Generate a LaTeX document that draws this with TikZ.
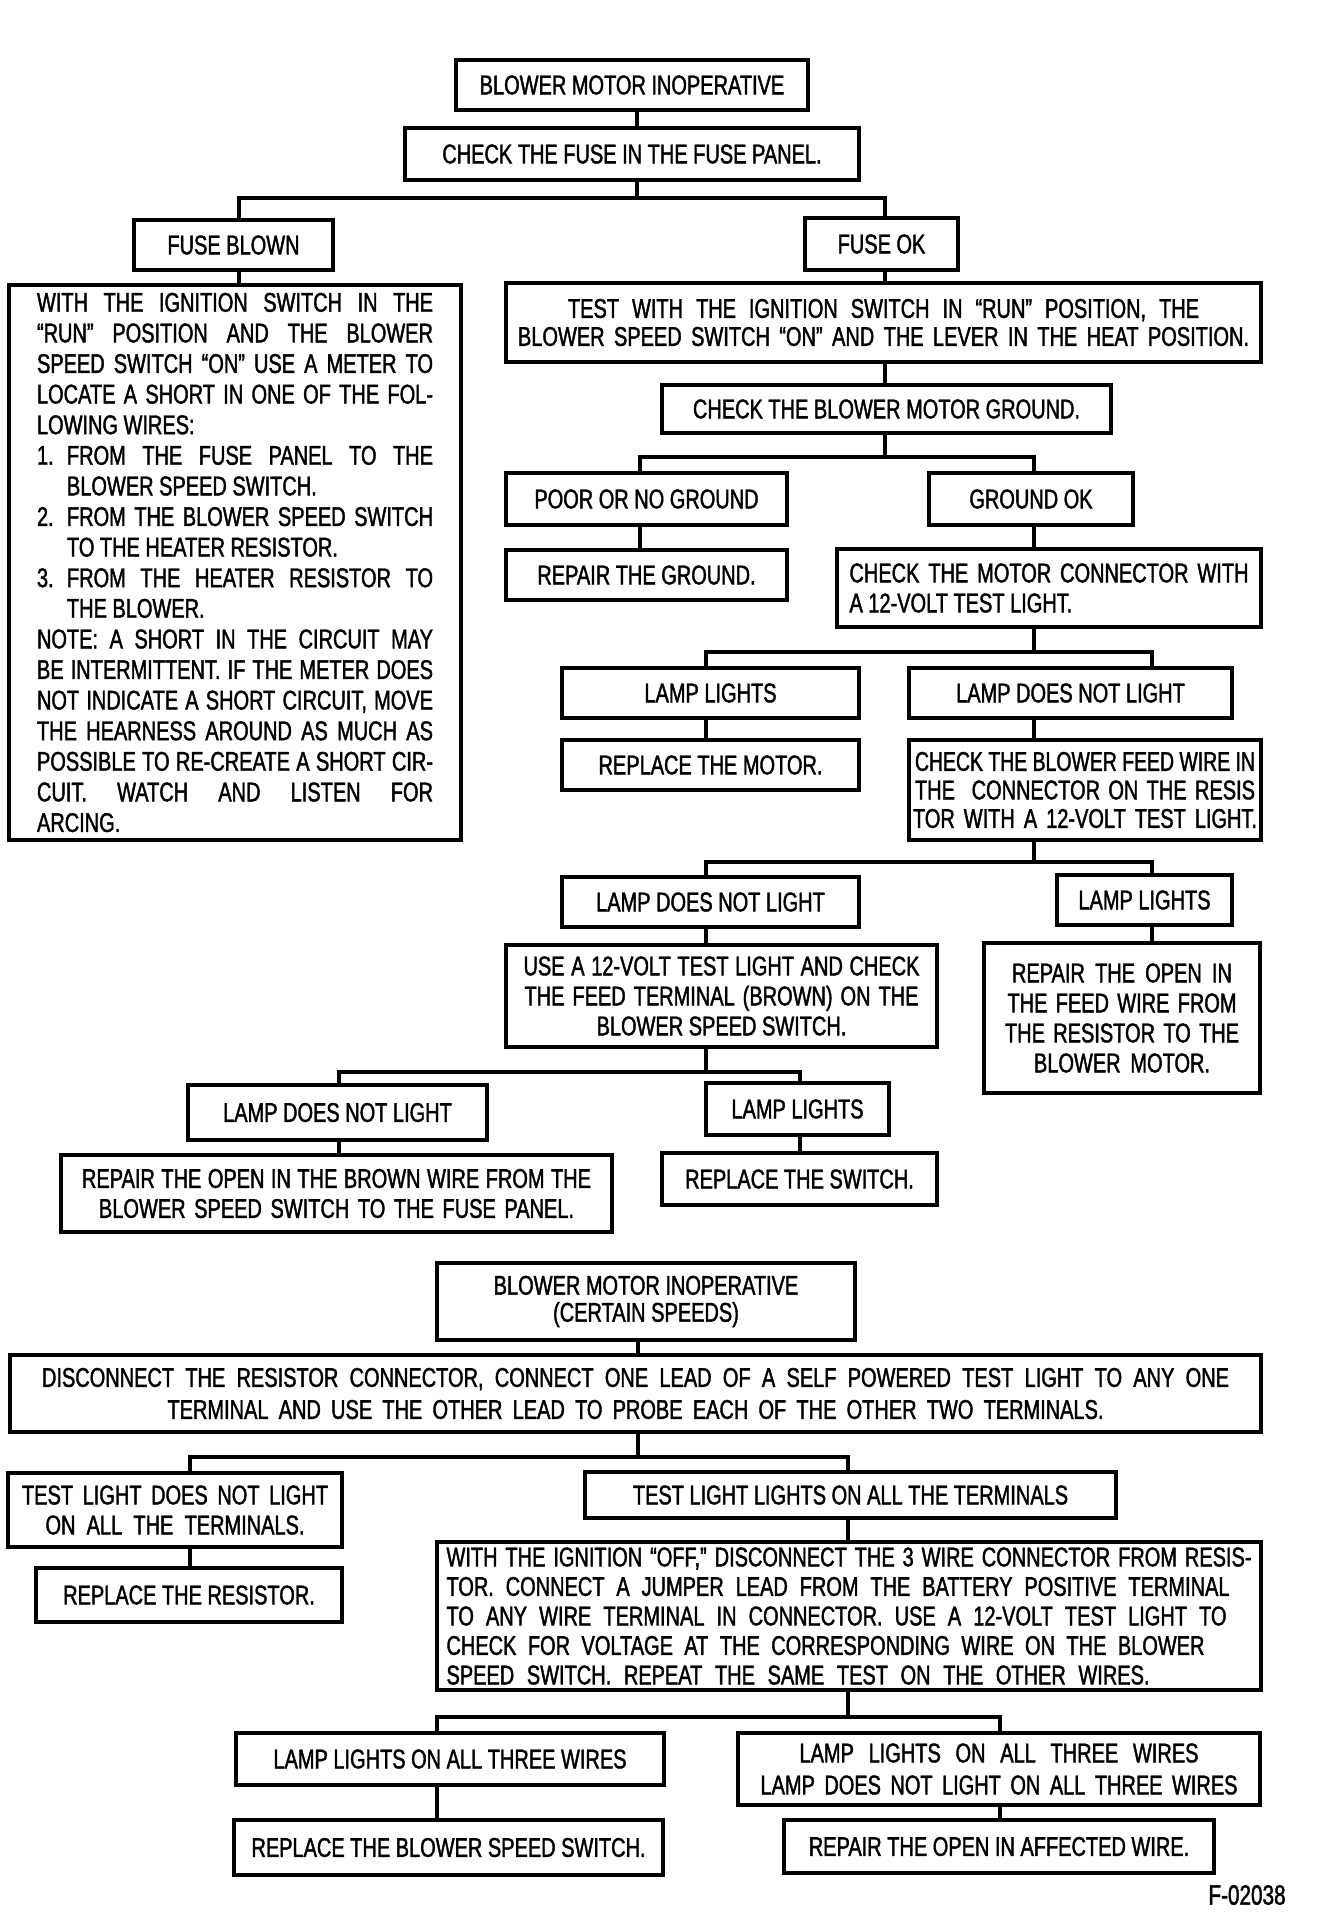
\documentclass[tikz,border=0pt]{standalone}
\usepackage{fontspec}
\setmainfont{Liberation Sans}[FakeStretch=0.74,FakeBold=1.5]
\usepackage{graphicx}
\newsavebox\flbox
\newcommand\fitline[2]{\sbox\flbox{#2}\ifdim\wd\flbox>#1\relax\resizebox{#1}{\ht\flbox}{\usebox\flbox}\else\makebox[#1][s]{#2}\fi}
% box node from its corners (x1,y1)-(x2,y2) given in pixels of the reference
\newcommand\bxn[6]{\node[bx,minimum width={(#5-#3)*0.5pt},minimum height={(#6-#4)*0.5pt},#2] (#1) at ({(#3+#5)/2},{(#4+#6)/2})}
\tikzset{
  bx/.style={draw, line width=1.7pt, inner sep=0pt, align=center, anchor=center,
    font=\fontsize{13.5pt}{15pt}\selectfont},
  cn/.style={line width=1.7pt, line cap=rect, line join=miter},
}
\begin{document}
\begin{tikzpicture}[x=0.5pt,y=-0.5pt]
\fill[white] (0,0) rectangle (1344,1924);
\useasboundingbox (0,0) rectangle (1344,1924);

% ---------------- upper chart ----------------
\bxn{b1}{}{456}{60}{808}{110}{BLOWER MOTOR INOPERATIVE};
\bxn{b2}{}{405}{128}{859}{180}{CHECK THE FUSE IN THE FUSE PANEL.};
\bxn{fb}{}{134}{220}{333}{270}{FUSE BLOWN};
\bxn{fok}{}{805}{218}{958}{270}{FUSE OK};
\bxn{l1}{align=left, font=\fontsize{13.5pt}{15.3pt}\selectfont}{9}{285}{461}{840}{%
\fitline{198pt}{WITH THE IGNITION SWITCH IN THE}\\
\fitline{198pt}{``RUN'' POSITION AND THE BLOWER}\\
\fitline{198pt}{SPEED SWITCH ``ON'' USE A METER TO}\\
\fitline{198pt}{LOCATE A SHORT IN ONE OF THE FOL-}\\
LOWING WIRES:\\
\makebox[15pt][l]{1.}\fitline{183pt}{FROM THE FUSE PANEL TO THE}\\
\hspace*{15pt}BLOWER SPEED SWITCH.\\
\makebox[15pt][l]{2.}\fitline{183pt}{FROM THE BLOWER SPEED SWITCH}\\
\hspace*{15pt}TO THE HEATER RESISTOR.\\
\makebox[15pt][l]{3.}\fitline{183pt}{FROM THE HEATER RESISTOR TO}\\
\hspace*{15pt}THE BLOWER.\\
\fitline{198pt}{NOTE: A SHORT IN THE CIRCUIT MAY}\\
\fitline{198pt}{BE INTERMITTENT. IF THE METER DOES}\\
\fitline{198pt}{NOT INDICATE A SHORT CIRCUIT, MOVE}\\
\fitline{198pt}{THE HEARNESS AROUND AS MUCH AS}\\
\fitline{198pt}{POSSIBLE TO RE-CREATE A SHORT CIR-}\\
\fitline{198pt}{CUIT. WATCH AND LISTEN FOR}\\
ARCING.};
\bxn{r1}{font=\fontsize{13.5pt}{14pt}\selectfont}{506}{283}{1261}{362}{%
\fitline{315.5pt}{TEST WITH THE IGNITION SWITCH IN ``RUN'' POSITION, THE}\\
\fitline{365.5pt}{BLOWER SPEED SWITCH ``ON'' AND THE LEVER IN THE HEAT POSITION.}};
\bxn{r2}{}{662}{385}{1111}{433}{CHECK THE BLOWER MOTOR GROUND.};
\bxn{poor}{}{506}{473}{787}{525}{POOR OR NO GROUND};
\bxn{gok}{}{929}{473}{1133}{525}{GROUND OK};
\bxn{rg}{}{506}{550}{787}{600}{REPAIR THE GROUND.};
\bxn{r3}{align=left}{837}{549}{1261}{627}{%
\fitline{199.5pt}{CHECK THE MOTOR CONNECTOR WITH}\\
A 12-VOLT TEST LIGHT.};
\bxn{ll1}{}{562}{668}{859}{718}{LAMP LIGHTS};
\bxn{ln1}{}{909}{668}{1232}{718}{LAMP DOES NOT LIGHT};
\bxn{rm}{}{562}{740}{859}{790}{REPLACE THE MOTOR.};
\bxn{r5}{font=\fontsize{13.5pt}{14.25pt}\selectfont}{909}{740}{1261}{840}{%
\fitline{170pt}{CHECK THE BLOWER FEED WIRE IN}\\
\fitline{170pt}{THE\ \ CONNECTOR ON THE RESIS}\\
\fitline{172pt}{TOR WITH A 12-VOLT TEST LIGHT.}};
\bxn{ln2}{}{562}{877}{859}{927}{LAMP DOES NOT LIGHT};
\bxn{ll2}{}{1057}{875}{1232}{925}{LAMP LIGHTS};
\bxn{r7}{}{506}{945}{937}{1047}{%
\fitline{198pt}{USE A 12-VOLT TEST LIGHT AND CHECK}\\
\fitline{197pt}{THE FEED TERMINAL (BROWN) ON THE}\\
BLOWER SPEED SWITCH.};
\bxn{r8}{}{984}{943}{1260}{1093}{%
\fitline{110pt}{REPAIR THE OPEN IN}\\
\fitline{114.5pt}{THE FEED WIRE FROM}\\
\fitline{117pt}{THE RESISTOR TO THE}\\
\fitline{88pt}{BLOWER MOTOR.}};
\bxn{ln3}{}{188}{1085}{487}{1140}{LAMP DOES NOT LIGHT};
\bxn{ll3}{}{706}{1083}{889}{1135}{LAMP LIGHTS};
\bxn{r10a}{}{61}{1155}{612}{1232}{%
\fitline{254.5pt}{REPAIR THE OPEN IN THE BROWN WIRE FROM THE}\\
\fitline{237.5pt}{BLOWER SPEED SWITCH TO THE FUSE PANEL.}};
\bxn{r10b}{}{662}{1153}{937}{1205}{REPLACE THE SWITCH.};

% ---------------- lower chart ----------------
\bxn{s1}{font=\fontsize{13.5pt}{13.5pt}\selectfont}{437}{1263}{855}{1340}{%
BLOWER MOTOR INOPERATIVE\\(CERTAIN SPEEDS)};
\bxn{s2}{font=\fontsize{13.5pt}{16pt}\selectfont}{10}{1355}{1261}{1432}{%
\fitline{593.5pt}{DISCONNECT THE RESISTOR CONNECTOR, CONNECT ONE LEAD OF A SELF POWERED TEST LIGHT TO ANY ONE}\\
\fitline{468pt}{TERMINAL AND USE THE OTHER LEAD TO PROBE EACH OF THE OTHER TWO TERMINALS.}};
\bxn{s3a}{}{8}{1473}{342}{1547}{%
\fitline{153pt}{TEST LIGHT DOES NOT LIGHT}\\
\fitline{129.5pt}{ON ALL THE TERMINALS.}};
\bxn{s3b}{}{585}{1472}{1116}{1518}{TEST LIGHT LIGHTS ON ALL THE TERMINALS};
\bxn{s4a}{}{36}{1568}{342}{1622}{REPLACE THE RESISTOR.};
\bxn{s4b}{align=left, font=\fontsize{13.5pt}{14.75pt}\selectfont}{437}{1542}{1261}{1690}{%
\fitline{402.5pt}{WITH THE IGNITION ``OFF,'' DISCONNECT THE 3 WIRE CONNECTOR FROM RESIS-}\\
\fitline{391.5pt}{TOR. CONNECT A JUMPER LEAD FROM THE BATTERY POSITIVE TERMINAL}\\
\fitline{390pt}{TO ANY WIRE TERMINAL IN CONNECTOR. USE A 12-VOLT TEST LIGHT TO}\\
\fitline{379pt}{CHECK FOR VOLTAGE AT THE CORRESPONDING WIRE ON THE BLOWER}\\
\fitline{351.5pt}{SPEED SWITCH. REPEAT THE SAME TEST ON THE OTHER WIRES.}};
\bxn{s5a}{}{236}{1733}{664}{1785}{LAMP LIGHTS ON ALL THREE WIRES};
\bxn{s5b}{font=\fontsize{13.5pt}{16pt}\selectfont}{738}{1733}{1260}{1805}{%
\fitline{199.5pt}{LAMP LIGHTS ON ALL THREE WIRES}\\
\fitline{238.5pt}{LAMP DOES NOT LIGHT ON ALL THREE WIRES}};
\bxn{s6a}{}{234}{1820}{663}{1875}{REPLACE THE BLOWER SPEED SWITCH.};
\bxn{s6b}{}{784}{1820}{1214}{1873}{REPAIR THE OPEN IN AFFECTED WIRE.};
\node[anchor=east, inner sep=0pt, font=\fontsize{14pt}{14pt}\selectfont] (fig) at (1286,1895) {F-02038};

% ---------------- connectors ----------------
\coordinate (j1) at (637,198); \coordinate (j1l) at (239,198); \coordinate (j1r) at (885,198);
\draw[cn] (b1.south -| j1) -- (b2.north -| j1);
\draw[cn] (b2.south -| j1) -- (j1);
\draw[cn] (fb.north -| j1l) -- (j1l) -- (j1r) -- (fok.north -| j1r);
\draw[cn] (fb.south -| j1l) -- (l1.north -| j1l);
\draw[cn] (fok.south -| j1r) -- (r1.north -| j1r);
\draw[cn] (r1.south -| j1r) -- (r2.north -| j1r);

\coordinate (j2) at (885,457); \coordinate (j2l) at (640,457); \coordinate (j2r) at (1034,457);
\draw[cn] (r2.south -| j2) -- (j2);
\draw[cn] (poor.north -| j2l) -- (j2l) -- (j2r) -- (gok.north -| j2r);
\draw[cn] (poor.south -| j2l) -- (rg.north -| j2l);
\draw[cn] (gok.south -| j2r) -- (r3.north -| j2r);

\coordinate (j3) at (1034,652); \coordinate (j3l) at (706,652); \coordinate (j3r) at (1152,652);
\draw[cn] (r3.south -| j3) -- (j3);
\draw[cn] (ll1.north -| j3l) -- (j3l) -- (j3r) -- (ln1.north -| j3r);
\draw[cn] (ll1.south -| j3l) -- (rm.north -| j3l);
\draw[cn] (ln1.south -| j3) -- (r5.north -| j3);

\coordinate (j4) at (1034,862); \coordinate (j4l) at (706,862); \coordinate (j4r) at (1152,862);
\draw[cn] (r5.south -| j4) -- (j4);
\draw[cn] (ln2.north -| j4l) -- (j4l) -- (j4r) -- (ll2.north -| j4r);
\draw[cn] (ln2.south -| j4l) -- (r7.north -| j4l);
\draw[cn] (ll2.south -| j4r) -- (r8.north -| j4r);

\coordinate (j5) at (706,1072); \coordinate (j5l) at (339,1072); \coordinate (j5r) at (800,1072);
\draw[cn] (r7.south -| j5) -- (j5);
\draw[cn] (ln3.north -| j5l) -- (j5l) -- (j5r) -- (ll3.north -| j5r);
\draw[cn] (ln3.south -| j5l) -- (r10a.north -| j5l);
\draw[cn] (ll3.south -| j5r) -- (r10b.north -| j5r);

\coordinate (j6) at (638,1457); \coordinate (j6l) at (190,1457); \coordinate (j6r) at (848,1457);
\draw[cn] (s1.south -| j6) -- (s2.north -| j6);
\draw[cn] (s2.south -| j6) -- (j6);
\draw[cn] (s3a.north -| j6l) -- (j6l) -- (j6r) -- (s3b.north -| j6r);
\draw[cn] (s3a.south -| j6l) -- (s4a.north -| j6l);
\draw[cn] (s3b.south -| j6r) -- (s4b.north -| j6r);

\coordinate (j7) at (848,1717); \coordinate (j7l) at (437,1717); \coordinate (j7r) at (1000,1717);
\draw[cn] (s4b.south -| j7) -- (j7);
\draw[cn] (s5a.north -| j7l) -- (j7l) -- (j7r) -- (s5b.north -| j7r);
\draw[cn] (s5a.south -| j7l) -- (s6a.north -| j7l);
\draw[cn] (s5b.south -| j7r) -- (s6b.north -| j7r);
\end{tikzpicture}
\end{document}
